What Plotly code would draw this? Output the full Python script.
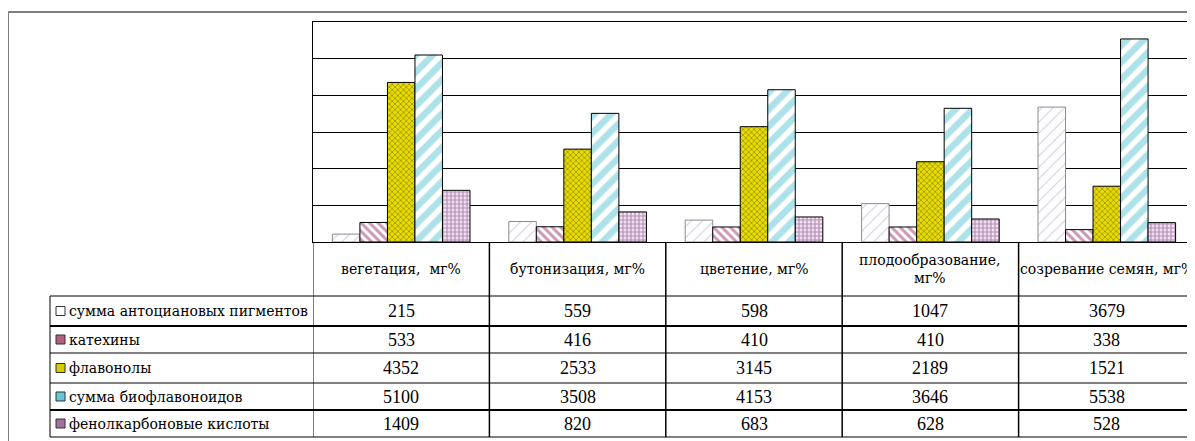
import plotly.graph_objects as go

# ---- data ----
categories = ["вегетация,\u00a0\u00a0мг%", "бутонизация, мг%", "цветение, мг%",
              "плодообразование,<br>мг%", "созревание семян, мг%"]
series_names = ["сумма антоциановых пигментов", "катехины", "флавонолы",
                "сумма биофлавоноидов", "фенолкарбоновые кислоты"]
anthocyanins = [215, 559, 598, 1047, 3679]
catechins = [533, 416, 410, 410, 338]
flavonols = [4352, 2533, 3145, 2189, 1521]
bioflavonoids = [5100, 3508, 4153, 3646, 5538]
phenolcarboxylic = [1409, 820, 683, 628, 528]
series_values = [anthocyanins, catechins, flavonols, bioflavonoids, phenolcarboxylic]

# page body has an 8px margin; work in screen pixels and shift
OFF = 8
W, H = 1195 - OFF, 441 - OFF
def px(x):
    return (x - OFF) / W
def py(y):
    return 1 - (y - OFF) / H

FONT = "'DejaVu Serif', 'Liberation Serif', serif"
NUMFONT = "'Liberation Serif', 'Times New Roman', serif"

styles = [
    dict(bg="#ffffff", fg="#a090d0", shape="/", size=8, sol=0.12, line="#8c8c8c", icon="#ffffff"),
    dict(bg="#ffffff", fg="#993366", shape="\\", size=6, sol=0.5, line="#000000", icon="#b0607f"),
    dict(bg="#e8dc00", fg="#4a4400", shape="x", size=4, sol=0.35, line="#000000", icon="#d8cc00"),
    dict(bg="#ffffff", fg="#5cc6d6", shape="/", size=12, sol=0.55, line="#000000", icon="#66c8d8"),
    dict(bg="#f0e2f0", fg="#7a3a7a", shape="+", size=4, sol=0.5, line="#000000", icon="#a070a0"),
]

fig = go.Figure()
xidx = list(range(len(categories)))
for name, vals, st in zip(series_names, series_values, styles):
    fig.add_trace(go.Bar(
        x=xidx, y=vals, name=name,
        marker=dict(color=st["bg"],
                    line=dict(color=st["line"], width=1),
                    pattern=dict(shape=st["shape"], fgcolor=st["fg"], bgcolor=st["bg"],
                                 size=st["size"], solidity=st["sol"])),
    ))

plot_left, plot_top, plot_bottom = 313, 22, 242
fig.update_layout(
    width=W, height=H,
    margin=dict(l=0, r=0, t=0, b=0, pad=0),
    paper_bgcolor="white", plot_bgcolor="white",
    showlegend=False,
    barmode="group", bargap=0.22, bargroupgap=0,
    font=dict(family=FONT, size=14, color="black"),
    xaxis=dict(domain=[px(plot_left), 1], range=[-0.5, len(categories) - 0.5],
               showticklabels=False, showgrid=False, zeroline=False,
               showline=True, mirror=True, linecolor="black", linewidth=1, ticks=""),
    yaxis=dict(domain=[py(plot_bottom), py(plot_top)], range=[0, 6000], dtick=1000,
               showticklabels=False, showgrid=True, gridcolor="black", gridwidth=1,
               zeroline=False, showline=True, linecolor="black", linewidth=1, ticks=""),
)

shapes = []
# outer gray frame
shapes.append(dict(type="rect", xref="paper", yref="paper",
                   x0=px(8), x1=px(1210), y0=py(12), y1=py(460),
                   line=dict(color="#7f7f7f", width=2), fillcolor="rgba(0,0,0,0)", layer="below"))

# table geometry
row_bounds = [296, 326, 353, 383, 410, 437]
thick = {326, 410}
table_left = 50
for yb in row_bounds:
    shapes.append(dict(type="line", xref="paper", yref="paper",
                       x0=px(table_left), x1=px(1210), y0=py(yb), y1=py(yb),
                       line=dict(color="black", width=2 if yb in thick else 1)))
shapes.append(dict(type="line", xref="paper", yref="paper",
                   x0=px(table_left), x1=px(table_left), y0=py(296), y1=py(437),
                   line=dict(color="black", width=1)))
for k in range(len(categories)):
    shapes.append(dict(type="line", xref="x", yref="paper",
                       x0=k - 0.5, x1=k - 0.5, y0=py(plot_bottom), y1=py(437),
                       line=dict(color="black", width=1.5 if k > 0 else 1)))

annotations = []
# category labels
for k, c in enumerate(categories):
    annotations.append(dict(x=k, xref="x", y=py(269), yref="paper", text=c,
                            showarrow=False, xanchor="center", yanchor="middle",
                            font=dict(size=14, family=FONT)))

# legend rows and values
for i, (name, vals, st) in enumerate(zip(series_names, series_values, styles)):
    yc = (row_bounds[i] + row_bounds[i + 1]) / 2
    shapes.append(dict(type="rect", xref="paper", yref="paper",
                       x0=px(56), x1=px(65), y0=py(yc - 4.5), y1=py(yc + 4.5),
                       fillcolor=st["icon"], line=dict(color="#333333", width=1)))
    annotations.append(dict(x=px(67), xref="paper", y=py(yc), yref="paper", text=name,
                            showarrow=False, xanchor="left", yanchor="middle",
                            font=dict(size=14, family=FONT)))
    for k, v in enumerate(vals):
        annotations.append(dict(x=k, xref="x", y=py(yc), yref="paper", text=str(v),
                                showarrow=False, xanchor="center", yanchor="middle",
                                font=dict(size=18, family=NUMFONT)))

fig.update_layout(shapes=shapes, annotations=annotations)
fig.write_html("out.html")
